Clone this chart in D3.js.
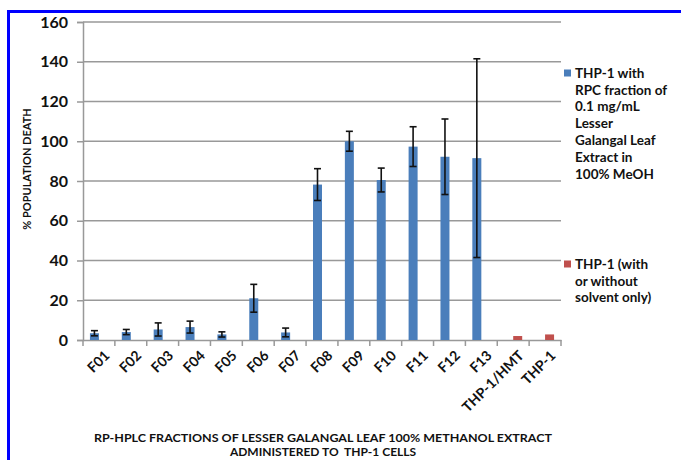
<!DOCTYPE html>
<html><head><meta charset="utf-8">
<script src="https://cdn.jsdelivr.net/npm/d3@7"></script>
<style>
html,body{margin:0;padding:0;background:#fff;}
svg{display:block;font-family:Lato,"Open Sans",sans-serif;font-weight:bold;}
</style></head>
<body>
<svg id="chart" width="681" height="460"></svg>
<script>
const categories = ["F01","F02","F03","F04","F05","F06","F07","F08","F09","F10","F11","F12","F13","THP-1/HMT","THP-1"];
const fractionValues = [3.4,4.0,5.3,6.5,2.8,21,3.8,78.2,100,80.5,97.3,92.2,91.5,null,null];
const fractionErrors = [1.3,1.3,3.3,3.0,1.3,7,2.2,8,5,6,10,19,50,null,null];
const controlValues = [null,null,null,null,null,null,null,null,null,null,null,null,null,2.0,2.8];
const yTicks = [0,20,40,60,80,100,120,140,160];
const legendFraction = ["THP-1 with","RPC fraction of","0.1 mg/mL","Lesser","Galangal Leaf","Extract in","100% MeOH"];
const legendControl = ["THP-1 (with","or without","solvent only)"];
const xTitle = ["RP-HPLC FRACTIONS OF LESSER GALANGAL LEAF 100% METHANOL EXTRACT","ADMINISTERED TO  THP-1 CELLS"];
const yTitle = "% POPULATION DEATH";

const blue = "#4a7ebb", red = "#c0504d", grid = "#999999";
const svg = d3.select("#chart");

// frame
svg.append("line").attr("x1",8).attr("x2",681).attr("y1",11.5).attr("y2",11.5).attr("stroke","#0000ff").attr("stroke-width",3);
svg.append("line").attr("x1",8.5).attr("x2",8.5).attr("y1",10).attr("y2",460).attr("stroke","#0000ff").attr("stroke-width",3);

const x = d3.scaleBand().domain(categories).range([83,561]);
const y = d3.scaleLinear().domain([0,160]).range([340,22]);
const bw = 9;

// gridlines
svg.append("g").selectAll("line").data(yTicks.filter(d=>d>0)).join("line")
  .attr("x1",83).attr("x2",561).attr("y1",d=>y(d)).attr("y2",d=>y(d))
  .attr("stroke",grid).attr("stroke-width",1.5);

// y axis
const yAxis = svg.append("g").attr("transform","translate(83,0)")
  .call(d3.axisLeft(y).tickValues(yTicks).tickSize(6).tickPadding(9));
yAxis.select(".domain").attr("stroke",grid).attr("stroke-width",1.5);
yAxis.selectAll(".tick line").attr("stroke",grid).attr("stroke-width",1.5);
yAxis.selectAll(".tick text").attr("font-size",16).attr("font-weight","bold").attr("fill","#111").attr("font-family","Lato,sans-serif");

// x axis
const xAxis = svg.append("g").attr("transform","translate(0,340)")
  .call(d3.axisBottom(x).tickSize(0).tickFormat(""));
xAxis.select(".domain").attr("stroke",grid).attr("stroke-width",1.5);
// boundary ticks
svg.append("g").selectAll("line").data(d3.range(categories.length+1)).join("line")
  .attr("x1",i=>83+i*x.step()).attr("x2",i=>83+i*x.step())
  .attr("y1",340).attr("y2",346).attr("stroke",grid).attr("stroke-width",1.5);
// tick labels
svg.append("g").selectAll("text").data(categories).join("text")
  .attr("transform",d=>`translate(${x(d)+x.bandwidth()/2+8},353) rotate(-45)`)
  .attr("text-anchor","end").attr("dy","0.35em")
  .attr("font-size",14).attr("fill","#111").text(d=>d);

// bars
const data = categories.map((c,i)=>({c,v:fractionValues[i],e:fractionErrors[i],r:controlValues[i]}));
svg.append("g").selectAll("rect").data(data.filter(d=>d.v!=null)).join("rect")
  .attr("x",d=>x(d.c)+x.bandwidth()/2-bw).attr("width",bw)
  .attr("y",d=>y(d.v)).attr("height",d=>y(0)-y(d.v)).attr("fill",blue);
svg.append("g").selectAll("rect").data(data.filter(d=>d.r!=null)).join("rect")
  .attr("x",d=>x(d.c)+x.bandwidth()/2).attr("width",bw)
  .attr("y",d=>y(d.r)).attr("height",d=>y(0)-y(d.r)).attr("fill",red);

// error bars
const eb = svg.append("g").selectAll("g").data(data.filter(d=>d.v!=null)).join("g")
  .attr("stroke","#111").attr("stroke-width",1.6);
eb.append("line").attr("x1",d=>x(d.c)+x.bandwidth()/2-bw/2).attr("x2",d=>x(d.c)+x.bandwidth()/2-bw/2)
  .attr("y1",d=>y(d.v+d.e)).attr("y2",d=>y(Math.max(0,d.v-d.e)));
eb.append("line").attr("x1",d=>x(d.c)+x.bandwidth()/2-bw/2-3.5).attr("x2",d=>x(d.c)+x.bandwidth()/2-bw/2+3.5)
  .attr("y1",d=>y(d.v+d.e)).attr("y2",d=>y(d.v+d.e));
eb.append("line").attr("x1",d=>x(d.c)+x.bandwidth()/2-bw/2-3.5).attr("x2",d=>x(d.c)+x.bandwidth()/2-bw/2+3.5)
  .attr("y1",d=>y(Math.max(0,d.v-d.e))).attr("y2",d=>y(Math.max(0,d.v-d.e)));

// axis titles
svg.append("text").attr("transform","translate(31,169) rotate(-90)").attr("text-anchor","middle")
  .attr("font-size",11).attr("fill","#111").text(yTitle);
svg.append("text").attr("x",323).attr("y",442).attr("text-anchor","middle").attr("font-size",12)
  .attr("textLength",458).attr("lengthAdjust","spacingAndGlyphs").attr("fill","#111").text(xTitle[0]);
svg.append("text").attr("x",323).attr("y",456).attr("text-anchor","middle").attr("font-size",12)
  .style("white-space","pre").attr("fill","#111").text(xTitle[1]);

// legend
function legend(lines,color,y0){
  const g = svg.append("g");
  g.append("rect").attr("x",564).attr("y",y0-3.5).attr("width",7).attr("height",7).attr("fill",color);
  g.selectAll("text").data(lines).join("text").attr("x",575).attr("y",(d,i)=>y0+i*16.8)
    .attr("dy","0.35em").attr("font-size",13.5).attr("fill","#111").text(d=>d);
}
legend(legendFraction,blue,73);
legend(legendControl,red,264);
</script>
</body></html>
